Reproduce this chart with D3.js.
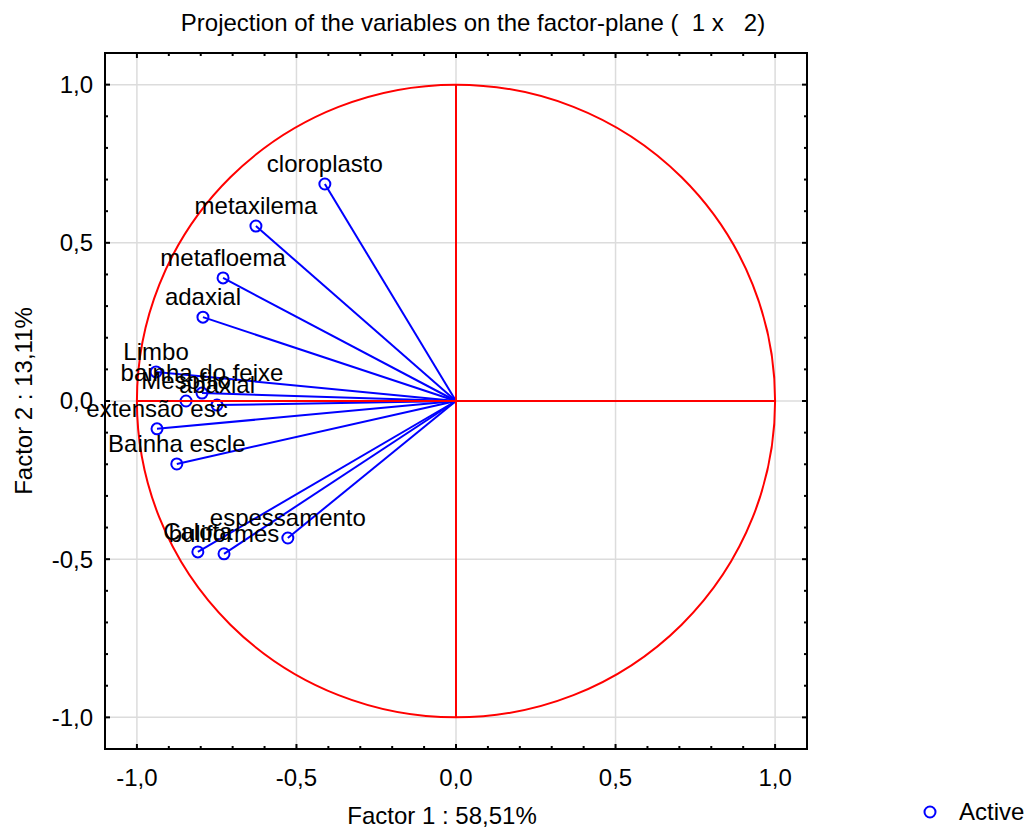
<!DOCTYPE html>
<html>
<head>
<meta charset="utf-8">
<script src="https://cdn.jsdelivr.net/npm/d3@7"></script>
<style>
    body { margin: 0; background: #fff; }
    text { font-family: "Liberation Sans", Arial, sans-serif; fill: #000; white-space: pre; }
</style>
</head>
<body>
<div id="chart"></div>
<script>
// variables and their coordinates on factor 1 / factor 2
let varNames = ["cloroplasto", "metaxilema", "metafloema", "adaxial", "Limbo", "bainha do feixe",
                "Mesofilo", "abaxial", "extensão esc", "Bainha escle", "espessamento", "Calota", "buliformes"];
let factor1 = [-0.411, -0.627, -0.730, -0.793, -0.940, -0.796, -0.846, -0.749, -0.937, -0.875, -0.527, -0.809, -0.727];
let factor2 = [0.686, 0.553, 0.389, 0.265, 0.092, 0.025, 0.000, -0.013, -0.088, -0.199, -0.433, -0.477, -0.483];

let majorTicks = [-1, -0.5, 0, 0.5, 1];
let minorTicks = d3.range(-10, 11).map(function (d) { return d / 10; });
let tickLabels = ["-1,0", "-0,5", "0,0", "0,5", "1,0"];

let titleText = "Projection of the variables on the factor-plane (  1 x   2)",
    xTitle = "Factor 1 : 58,51%",
    yTitle = "Factor 2 : 13,11%",
    legendText = "Active";

let W = 1032, H = 829,
    plot = { left: 105, right: 807, top: 53, bottom: 749 },
    blue = "#0000ff", red = "#ff0000";

let svg = d3.select("#chart").append("svg")
    .attr("width", W)
    .attr("height", H);

let x = d3.scaleLinear().domain([-1.1, 1.1]).range([plot.left, plot.right]);
let y = d3.scaleLinear().domain([-1.1, 1.1]).range([plot.bottom, plot.top]);

let data = varNames.map(function (d, i) {
    return { name: d, f1: factor1[i], f2: factor2[i] };
});

// grid
svg.append("g").selectAll("line.gx")
    .data(majorTicks)
    .enter().append("line")
    .attr("x1", function (d) { return x(d); })
    .attr("x2", function (d) { return x(d); })
    .attr("y1", plot.top)
    .attr("y2", plot.bottom)
    .attr("stroke", "#dcdcdc")
    .attr("stroke-width", 1.5);

svg.append("g").selectAll("line.gy")
    .data(majorTicks)
    .enter().append("line")
    .attr("y1", function (d) { return y(d); })
    .attr("y2", function (d) { return y(d); })
    .attr("x1", plot.left)
    .attr("x2", plot.right)
    .attr("stroke", "#dcdcdc")
    .attr("stroke-width", 1.5);

// vectors
let vec = svg.append("g");
vec.selectAll("line")
    .data(data)
    .enter().append("line")
    .attr("x1", x(0))
    .attr("y1", y(0))
    .attr("x2", function (d) { return x(d.f1); })
    .attr("y2", function (d) { return y(d.f2); })
    .attr("stroke", blue)
    .attr("stroke-width", 2);

// unit circle + red axes
svg.append("ellipse")
    .attr("cx", x(0))
    .attr("cy", y(0))
    .attr("rx", x(1) - x(0))
    .attr("ry", y(0) - y(1))
    .attr("fill", "none")
    .attr("stroke", red)
    .attr("stroke-width", 2);

svg.append("line")
    .attr("x1", x(-1)).attr("x2", x(1))
    .attr("y1", y(0)).attr("y2", y(0))
    .attr("stroke", red).attr("stroke-width", 2);

svg.append("line")
    .attr("x1", x(0)).attr("x2", x(0))
    .attr("y1", y(-1)).attr("y2", y(1))
    .attr("stroke", red).attr("stroke-width", 2);

vec.selectAll("circle")
    .data(data)
    .enter().append("circle")
    .attr("cx", function (d) { return x(d.f1); })
    .attr("cy", function (d) { return y(d.f2); })
    .attr("r", 5.5)
    .attr("fill", "none")
    .attr("stroke", blue)
    .attr("stroke-width", 2);

svg.append("g").selectAll("text")
    .data(data)
    .enter().append("text")
    .attr("x", function (d) { return x(d.f1); })
    .attr("y", function (d) { return y(d.f2) - 12; })
    .attr("text-anchor", "middle")
    .style("font-size", "24px")
    .text(function (d) { return d.name; });

// frame
svg.append("rect")
    .attr("x", plot.left)
    .attr("y", plot.top)
    .attr("width", plot.right - plot.left)
    .attr("height", plot.bottom - plot.top)
    .attr("fill", "none")
    .attr("stroke", "#000")
    .attr("stroke-width", 2);

// inward ticks on all four sides
let tickLen = function (d) { return majorTicks.indexOf(d) >= 0 ? 5 : 3; };
let ticks = svg.append("g").attr("stroke", "#000").attr("stroke-width", 2);
[plot.bottom, plot.top].forEach(function (yy, k) {
    ticks.selectAll(null)
        .data(minorTicks)
        .enter().append("line")
        .attr("x1", function (d) { return x(d); })
        .attr("x2", function (d) { return x(d); })
        .attr("y1", yy)
        .attr("y2", function (d) { return k === 0 ? yy - tickLen(d) : yy + tickLen(d); });
});
[plot.left, plot.right].forEach(function (xx, k) {
    ticks.selectAll(null)
        .data(minorTicks)
        .enter().append("line")
        .attr("y1", function (d) { return y(d); })
        .attr("y2", function (d) { return y(d); })
        .attr("x1", xx)
        .attr("x2", function (d) { return k === 0 ? xx + tickLen(d) : xx - tickLen(d); });
});

// tick labels
svg.append("g").selectAll("text")
    .data(majorTicks)
    .enter().append("text")
    .attr("x", function (d) { return x(d); })
    .attr("y", plot.bottom + 37)
    .attr("text-anchor", "middle")
    .style("font-size", "24px")
    .text(function (d, i) { return tickLabels[i]; });

svg.append("g").selectAll("text")
    .data(majorTicks)
    .enter().append("text")
    .attr("x", plot.left - 12)
    .attr("y", function (d) { return y(d); })
    .attr("dy", "0.35em")
    .attr("text-anchor", "end")
    .style("font-size", "24px")
    .text(function (d, i) { return tickLabels[i]; });

// titles
svg.append("text")
    .attr("x", 473)
    .attr("y", 31)
    .attr("text-anchor", "middle")
    .style("font-size", "24px")
    .text(titleText);

svg.append("text")
    .attr("x", 442)
    .attr("y", 824)
    .attr("text-anchor", "middle")
    .style("font-size", "24px")
    .text(xTitle);

svg.append("text")
    .attr("transform", "translate(32," + y(0) + ") rotate(-90)")
    .attr("text-anchor", "middle")
    .style("font-size", "24px")
    .text(yTitle);

// legend
svg.append("circle")
    .attr("cx", 930)
    .attr("cy", 812)
    .attr("r", 5.5)
    .attr("fill", "none")
    .attr("stroke", blue)
    .attr("stroke-width", 2);

svg.append("text")
    .attr("x", 959)
    .attr("y", 820)
    .style("font-size", "24px")
    .text(legendText);
</script>
</body>
</html>
